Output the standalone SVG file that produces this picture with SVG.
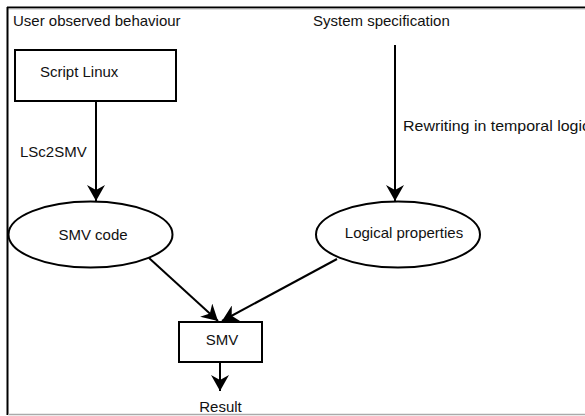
<svg xmlns="http://www.w3.org/2000/svg" width="585" height="416" viewBox="0 0 585 416">
<style>
.t{font-family:"Liberation Sans",Arial,sans-serif;font-size:15px;fill:#111}
.s{fill:#fff;stroke:#000;stroke-width:2}
.c{stroke:#000;stroke-width:2;fill:none}
</style>
<defs>
<marker id="ah" viewBox="0 0 16 18" refX="16" refY="9" markerWidth="16" markerHeight="18" markerUnits="userSpaceOnUse" orient="auto">
<path d="M0,0 L16,9 L0,18 L5,9 Z" fill="#000"/>
</marker>
</defs>
<rect width="585" height="416" fill="#fff"/>
<g id="frame">
<line x1="7" y1="7.5" x2="585" y2="7.5" stroke="#000" stroke-width="2"/>
<line x1="7" y1="9" x2="585" y2="9" stroke="#bbb" stroke-width="1"/>
<line x1="7.5" y1="7" x2="7.5" y2="415" stroke="#000" stroke-width="2"/>
<line x1="8" y1="414.5" x2="585" y2="414.5" stroke="#aaa" stroke-width="1.5"/>
</g>
<g id="connectors">
<line class="c" x1="96" y1="101" x2="96" y2="201" marker-end="url(#ah)"/>
<line class="c" x1="395" y1="45" x2="395" y2="201" marker-end="url(#ah)"/>
<line class="c" x1="149" y1="258" x2="218" y2="321" marker-end="url(#ah)"/>
<line class="c" x1="337" y1="259" x2="222" y2="321" marker-end="url(#ah)"/>
<line class="c" x1="220" y1="362" x2="220" y2="391" marker-end="url(#ah)"/>
<text class="t" x="20" y="157">LSc2SMV</text>
<text class="t" x="403" y="131" textLength="187" lengthAdjust="spacingAndGlyphs">Rewriting in temporal logic</text>
</g>
<g id="label-user">
<text class="t" x="13" y="26">User observed behaviour</text>
</g>
<g id="label-system">
<text class="t" x="313" y="26">System specification</text>
</g>
<g id="script-linux">
<rect class="s" x="15" y="50" width="161" height="51"/>
<text class="t" x="40" y="77">Script Linux</text>
</g>
<g id="smv-code">
<ellipse class="s" cx="90.5" cy="234.5" rx="82" ry="33"/>
<text class="t" x="93" y="240" text-anchor="middle">SMV code</text>
</g>
<g id="logical-properties">
<ellipse class="s" cx="398" cy="234.5" rx="82" ry="33"/>
<text class="t" x="404" y="238" text-anchor="middle">Logical properties</text>
</g>
<g id="smv">
<rect class="s" x="179" y="322" width="83" height="40"/>
<text class="t" x="222" y="345" text-anchor="middle">SMV</text>
</g>
<g id="result">
<text class="t" x="220.5" y="412" text-anchor="middle">Result</text>
</g>
</svg>
